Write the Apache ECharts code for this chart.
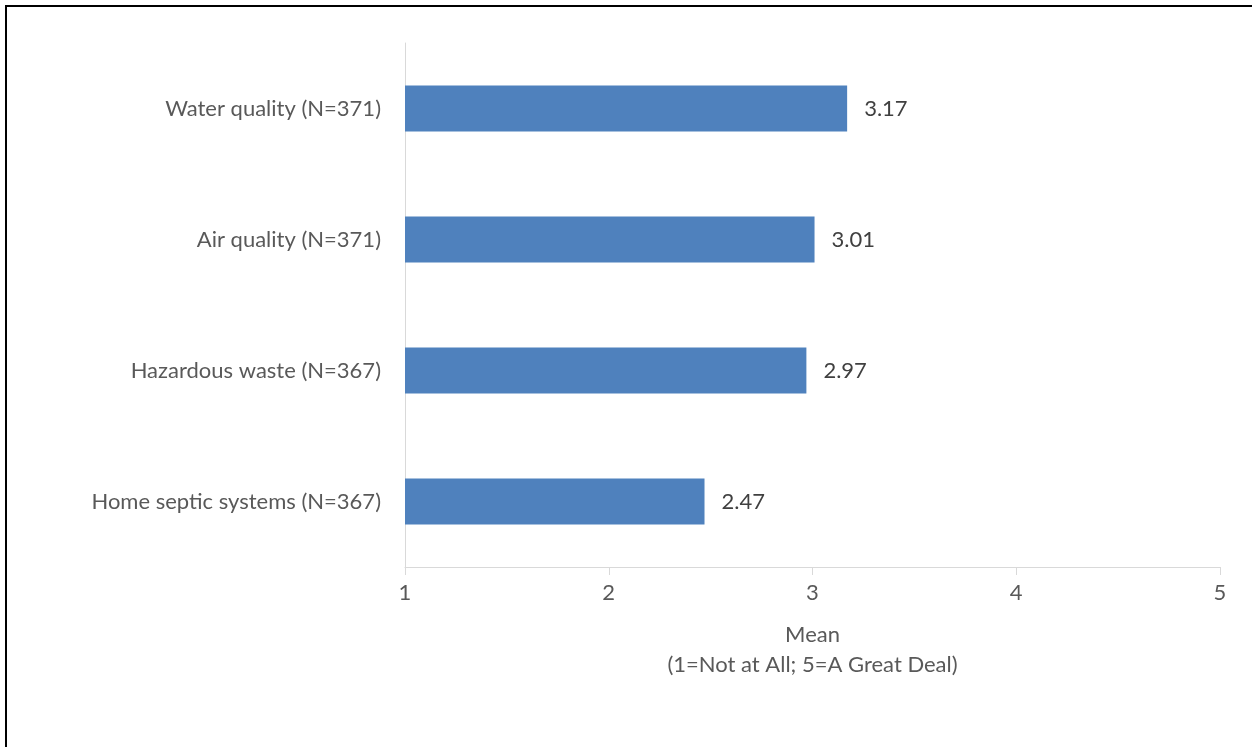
<!DOCTYPE html>
<html>
<head>
<meta charset="utf-8">
<script src="https://cdn.jsdelivr.net/npm/echarts@6/dist/echarts.min.js"></script>
<style>html,body{margin:0;padding:0;background:#fff}#c{width:1252px;height:747px}</style>
</head>
<body>
<div id="c"></div>
<script>
const categories = ['Home septic systems (N=367)', 'Hazardous waste (N=367)', 'Air quality (N=371)', 'Water quality (N=371)'];
const means = [2.47, 2.97, 3.01, 3.17];
const xTicks = [1, 2, 3, 4, 5];
const xAxisTitle = 'Mean\n(1=Not at All; 5=A Great Deal)';

const font = 'Lato';
const fs = 22;
const chart = echarts.init(document.getElementById('c'), null, {renderer: 'canvas'});
chart.setOption({
  animation: false,
  backgroundColor: '#fff',
  textStyle: {fontFamily: font},
  graphic: [{
    type: 'rect', x: 0, y: 0,
    shape: {x: 6, y: 6, width: 1400, height: 900},
    style: {fill: 'none', stroke: '#000', lineWidth: 2},
    silent: true
  }],
  grid: {left: 405, right: 32, top: 43, bottom: 180, containLabel: false},
  xAxis: {
    type: 'value', min: xTicks[0], max: xTicks[xTicks.length - 1], interval: 1,
    axisLine: {show: true, lineStyle: {color: '#d9d9d9', width: 1}},
    axisTick: {show: true, length: 8, lineStyle: {color: '#d9d9d9'}},
    splitLine: {show: false},
    axisLabel: {color: '#595959', fontSize: fs, margin: 15, fontFamily: font},
    name: xAxisTitle, nameLocation: 'middle', nameGap: 53,
    nameTextStyle: {color: '#595959', fontSize: fs, lineHeight: 30, fontFamily: font}
  },
  yAxis: {
    type: 'category', data: categories,
    axisLine: {show: true, lineStyle: {color: '#d9d9d9', width: 1}},
    axisTick: {show: false},
    axisLabel: {color: '#595959', fontSize: fs, margin: 24, fontFamily: font}
  },
  series: [{
    type: 'bar', data: means, barWidth: '35%',
    itemStyle: {color: '#4F81BD'},
    label: {show: true, position: 'right', distance: 17, color: '#404040', fontSize: fs, fontFamily: font,
      formatter: p => p.value.toFixed(2)}
  }]
});
</script>
</body>
</html>
